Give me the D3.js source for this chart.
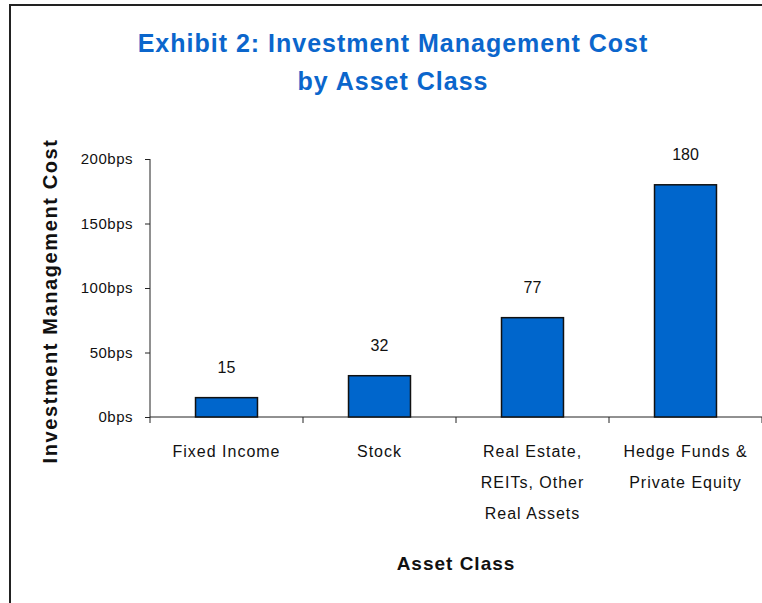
<!DOCTYPE html>
<html>
<head>
<meta charset="utf-8">
<script src="https://d3js.org/d3.v7.min.js"></script>
<style>
  body { margin: 0; background: #fff; }
  svg text { font-family: "Liberation Sans", Arial, sans-serif; }
</style>
</head>
<body>
<div id="chart"></div>
<script>
// 데이터
var categories = [
  ["Fixed Income"],
  ["Stock"],
  ["Real Estate,", "REITs, Other", "Real Assets"],
  ["Hedge Funds &", "Private Equity"]
];
var costValues = [15, 32, 77, 180];
var yTicks = [0, 50, 100, 150, 200];
var titleLines = ["Exhibit 2: Investment Management Cost", "by Asset Class"];

var width = 762, height = 603;
var margin = {top: 159, right: 0, bottom: 186, left: 150};
var plotW = width - margin.left - margin.right,
    plotH = height - margin.top - margin.bottom;

var svg = d3.select("#chart").append("svg")
    .attr("width", width)
    .attr("height", height);

// 외곽 테두리
svg.append("rect")
    .attr("x", 10).attr("y", 5)
    .attr("width", width).attr("height", height)
    .attr("fill", "none")
    .attr("stroke", "#222")
    .attr("stroke-width", 2);

// 제목
svg.selectAll(".title")
    .data(titleLines)
    .enter().append("text")
    .attr("class", "title")
    .attr("x", 393)
    .attr("y", function(d, i){ return 52 + i * 38; })
    .attr("text-anchor", "middle")
    .attr("fill", "#0b66cc")
    .style("font-size", "25px")
    .style("font-weight", "bold")
    .style("letter-spacing", "1px")
    .text(function(d){ return d; });

var g = svg.append("g")
    .attr("transform", "translate(" + margin.left + "," + margin.top + ")");

var x = d3.scaleBand()
    .domain(d3.range(categories.length))
    .range([0, plotW])
    .padding(0);

var y = d3.scaleLinear()
    .domain([0, 200])
    .range([plotH, 0]);

// y축
var yAxis = d3.axisLeft(y)
    .tickValues(yTicks)
    .tickSize(5)
    .tickPadding(12)
    .tickFormat(function(d){ return d + "bps"; });

var yG = g.append("g").call(yAxis);
yG.select(".domain").attr("stroke", "#222").attr("d", "M0," + plotH + "V0");
yG.selectAll(".tick line").attr("stroke", "#222");
yG.selectAll(".tick text")
    .attr("fill", "#111")
    .style("font-size", "15px")
    .style("letter-spacing", "0.5px");

// x축
var xG = g.append("g").attr("transform", "translate(0," + plotH + ")");
xG.append("line")
    .attr("x1", 0).attr("x2", plotW)
    .attr("stroke", "#222");
xG.selectAll(".xtick")
    .data(d3.range(categories.length + 1))
    .enter().append("line")
    .attr("class", "xtick")
    .attr("x1", function(d){ return d < categories.length ? x(d) : plotW; })
    .attr("x2", function(d){ return d < categories.length ? x(d) : plotW; })
    .attr("y1", 0).attr("y2", 6)
    .attr("stroke", "#222");

var catLabel = xG.selectAll(".cat")
    .data(categories)
    .enter().append("text")
    .attr("class", "cat")
    .attr("text-anchor", "middle")
    .attr("fill", "#111")
    .style("font-size", "16px")
    .style("letter-spacing", "1px");
catLabel.selectAll("tspan")
    .data(function(d, i){ return d.map(function(s){ return {s: s, i: i}; }); })
    .enter().append("tspan")
    .attr("x", function(d){ return x(d.i) + x.bandwidth() / 2; })
    .attr("y", function(d, j){ return 40 + j * 31; })
    .text(function(d){ return d.s; });

// 막대
var barW = x.bandwidth() * 0.405;
g.selectAll(".bar")
    .data(costValues)
    .enter().append("rect")
    .attr("class", "bar")
    .attr("x", function(d, i){ return x(i) + (x.bandwidth() - barW) / 2; })
    .attr("y", function(d){ return y(d); })
    .attr("width", barW)
    .attr("height", function(d){ return plotH - y(d); })
    .attr("fill", "#0066cc")
    .attr("stroke", "#111")
    .attr("stroke-width", 1.5);

// 값 라벨
g.selectAll(".val")
    .data(costValues)
    .enter().append("text")
    .attr("class", "val")
    .attr("x", function(d, i){ return x(i) + x.bandwidth() / 2; })
    .attr("y", function(d){ return y(d) - 25; })
    .attr("text-anchor", "middle")
    .attr("fill", "#111")
    .style("font-size", "16px")
    .text(function(d){ return d; });

// 축 제목
svg.append("text")
    .attr("transform", "translate(57,301) rotate(-90)")
    .attr("text-anchor", "middle")
    .attr("fill", "#111")
    .style("font-size", "20px")
    .style("font-weight", "bold")
    .style("letter-spacing", "1.6px")
    .text("Investment Management Cost");

svg.append("text")
    .attr("x", 456)
    .attr("y", 570)
    .attr("text-anchor", "middle")
    .attr("fill", "#111")
    .style("font-size", "19px")
    .style("font-weight", "bold")
    .style("letter-spacing", "1px")
    .text("Asset Class");
</script>
</body>
</html>
